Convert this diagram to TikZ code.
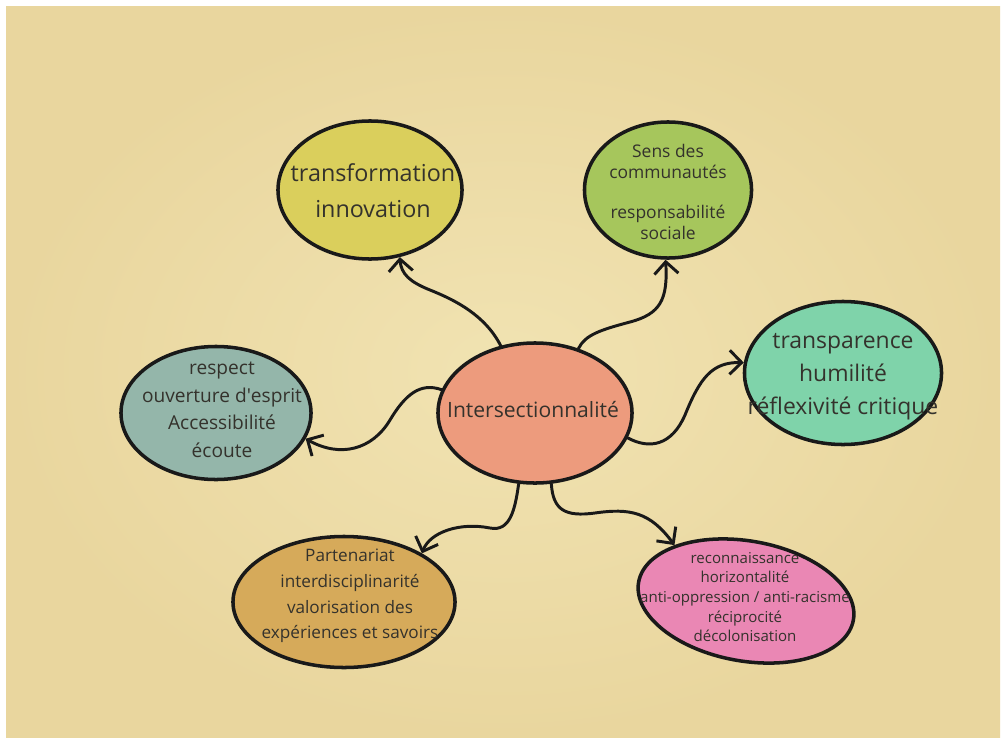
\documentclass[tikz,border=0pt]{standalone}
\usepackage{fontspec}
\setmainfont{Open Sans}
\usetikzlibrary{shapes.geometric,arrows.meta}
\definecolor{paperin}{RGB}{241,227,178}
\definecolor{paperout}{RGB}{233,214,158}
\definecolor{textgray}{RGB}{52,50,44}
\definecolor{salmon}{RGB}{237,155,125}
\definecolor{olive}{RGB}{218,207,92}
\definecolor{leaf}{RGB}{166,198,92}
\definecolor{mint}{RGB}{127,211,170}
\definecolor{sage}{RGB}{148,182,170}
\definecolor{mustard}{RGB}{214,170,90}
\definecolor{rose}{RGB}{234,135,180}

\begin{document}
\begin{tikzpicture}[
    x=0.025cm, y=-0.025cm,
    >={Straight Barb[length=3mm, width=6mm]},
    bubble/.style={
        ellipse, draw=black!90, line width=2.5pt, inner sep=0pt
      },
    txt/.style={align=center, text=textgray, inner sep=0pt, font=#1},
    link/.style={->, line width=2.1pt, line cap=round, line join=round, draw=black!90},
  ]
  % paper
  \fill[white] (0,0) rectangle (1005,743);
  \shade[inner color=paperin, outer color=paperout] (6,6) rectangle (1000,737);
  \useasboundingbox (0,0) rectangle (1005,743);

  % bubbles
  \node[bubble, fill=salmon, minimum width=4.85cm, minimum height=3.5cm] (c) at (535,413) {};
  \node[bubble, fill=olive, minimum width=4.6cm, minimum height=3.45cm] (trans) at (370,190) {};
  \node[bubble, fill=leaf, minimum width=4.175cm, minimum height=3.4cm] (sens) at (668,190) {};
  \node[bubble, fill=mint, minimum width=4.925cm, minimum height=3.575cm] (transp) at (843,373) {};
  \node[bubble, fill=sage, minimum width=4.75cm, minimum height=3.325cm] (resp) at (216,413) {};
  \node[bubble, fill=mustard, minimum width=5.55cm, minimum height=3.275cm] (part) at (344,602) {};
  \node[bubble, fill=rose, minimum width=5.45cm, minimum height=3.0cm, rotate=-10] (reco) at (746,601) {};

  % texts
  \node[txt={\fontsize{15}{20}\selectfont}] (c-t) at (533,410) {Intersectionnalité};
  \node[txt={\fontsize{16.6}{25.7}\selectfont}] (trans-t) at (373,191) {transformation\\innovation};
  \node[txt={\fontsize{12.4}{14.5}\selectfont}] (sens-t) at (668,192) {Sens des\\communautés\\[14.5pt]responsabilité\\sociale};
  \node[txt={\fontsize{16.3}{23.6}\selectfont}] (transp-t) at (843,377) {transparence\\humilité\\réflexivité critique};
  \node[txt={\fontsize{13.6}{19.6}\selectfont}] (resp-t) at (222,410) {respect\\ouverture d\textquotesingle esprit\\Accessibilité\\écoute};
  \node[txt={\fontsize{12.2}{18.3}\selectfont}] (part-t) at (350,596) {Partenariat\\interdisciplinarité\\valorisation des\\expériences et savoirs};
  \node[txt={\fontsize{10.7}{13.9}\selectfont}] (reco-t) at (745,597) {reconnaissance\\horizontalité\\anti-oppression / anti-racisme\\réciprocité\\décolonisation};

  % links
  \draw[link] (c.117) .. controls (485,315) and (455,300) .. (430,290)
    .. controls (410,282) and (401,274) .. (trans.294);
  \draw[link] (c.56) .. controls (585,335) and (600,330) .. (630,322)
    .. controls (660,314) and (668,300) .. (sens.268);
  \draw[link] (c.-15) .. controls (650,450) and (672,445) .. (685,415)
    .. controls (700,378) and (712,362) .. (transp.174);
  \draw[link] (c.166) .. controls (420,382) and (405,395) .. (390,420)
    .. controls (372,450) and (340,458) .. (resp.-16);
  \draw[link] (c.257) .. controls (515,510) and (510,532) .. (490,528)
    .. controls (460,522) and (430,532) .. (part.32);
  \draw[link] (c.283) .. controls (553,510) and (565,517) .. (595,513)
    .. controls (630,508) and (650,512) .. (reco.152);
\end{tikzpicture}
\end{document}
